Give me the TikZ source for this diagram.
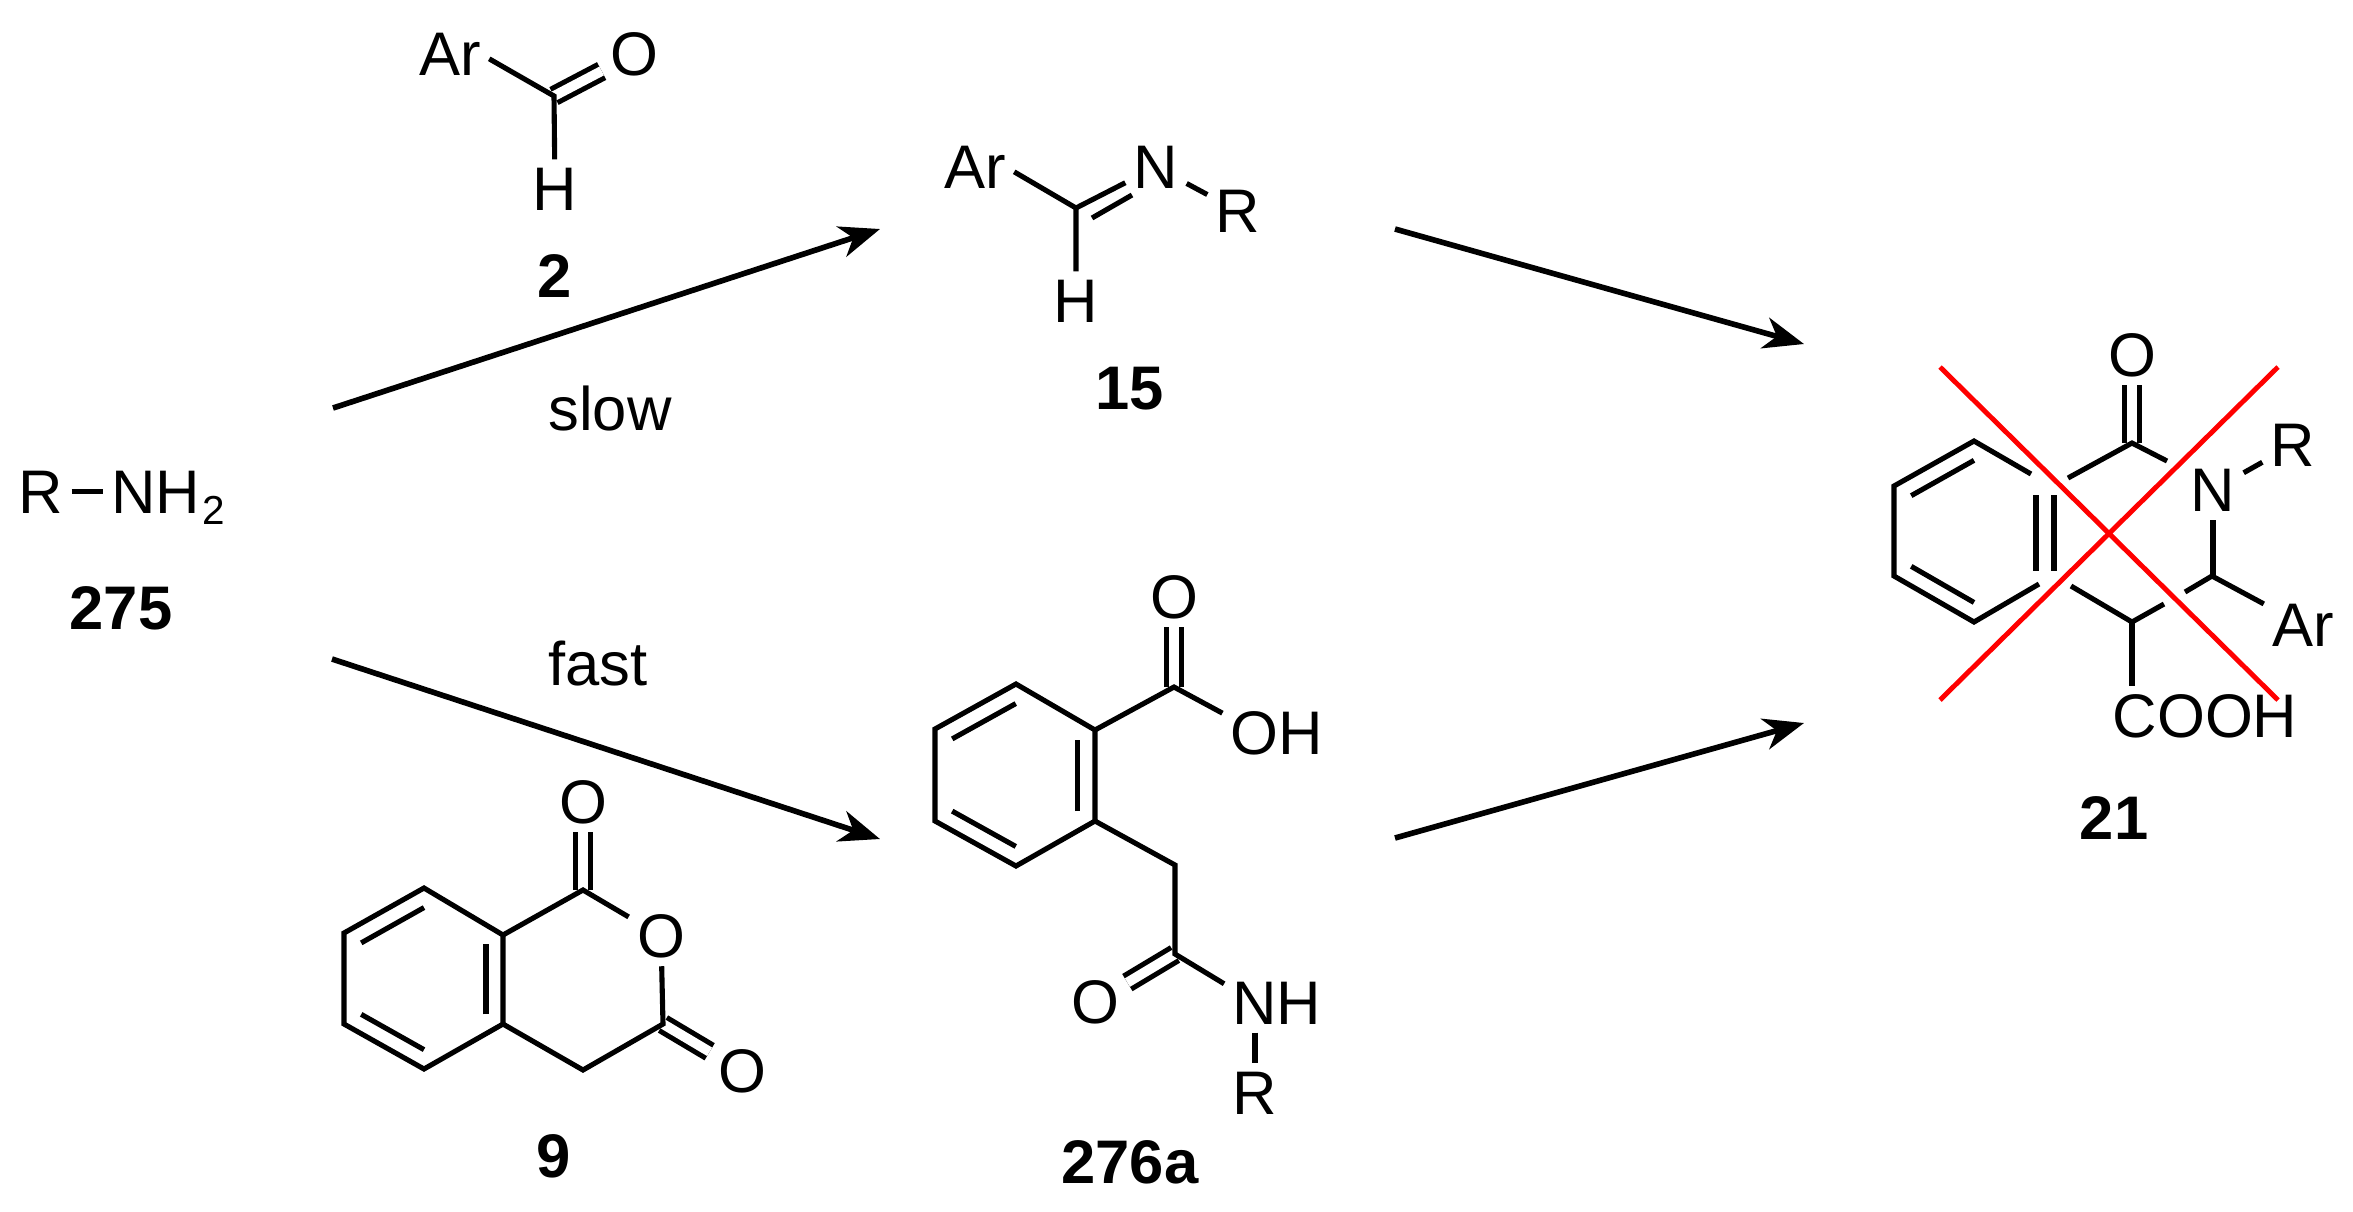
\documentclass[tikz,border=0pt]{standalone}
\usepackage{fontspec}
\setmainfont{Liberation Sans}
\usetikzlibrary{arrows.meta,calc}
\tikzset{
  atom/.style={font=\fontsize{17.5}{20}\selectfont,inner sep=2.2pt},
  cmpd/.style={font=\fontsize{17.5}{20}\selectfont\bfseries,inner sep=0pt},
  bond/.style={line width=1.45pt},
  dbond/.style={line width=1.45pt,double,double distance=2.8pt},
  rxn/.style={line width=1.6pt,-{Stealth[length=11.5pt,width=9pt,inset=3.5pt]}},
  cross/.style={draw=red,line width=1.4pt}
}
\begin{document}
\begin{tikzpicture}[x=0.01cm,y=-0.01cm]
\useasboundingbox (0,0) rectangle (2353,1211);
% 275
\node[atom,anchor=base] (r275) at (41,513) {R};
\node[atom,anchor=base west] (nh275) at (103,513) {NH\kern0.6pt\raisebox{-3.4pt}{\fontsize{11.5}{12}\selectfont 2}};
\node[cmpd] (lab275) at (121,608) {275};
\draw[bond] (r275.east) -- (r275.east -| nh275.west);
% 2
\node[atom] (ar2) at (450,54) {Ar};
\node[atom] (o2) at (634,54) {O};
\node[atom] (h2) at (555,189) {H};
\coordinate (c2) at (554,96);
\node[cmpd] (lab2) at (555,276) {2};
\draw[dbond] (c2) -- (o2);
\draw[bond] (ar2.-7) -- (c2) -- (h2);
% 15
\node[atom] (ar15) at (975,167) {Ar};
\node[atom] (n15) at (1156,167) {N};
\node[atom] (r15) at (1238,211) {R};
\node[atom] (h15) at (1076,301) {H};
\coordinate (c15) at (1076,208);
\coordinate (c15a) at (1092,218);
\coordinate (c15b) at (1132,195);
\node[cmpd] (lab15) at (1130,389) {15};
\draw[bond] (ar15.-7) -- (c15) -- (h15);
\draw[bond] (c15) -- (n15);
\draw[bond] (c15a) -- (c15b);
\draw[bond] (n15) -- (r15);
% 9
\coordinate (a0) at (424,979);
\coordinate (a1) at (424,888);
\coordinate (a2) at (344,933);
\coordinate (a3) at (344,1024);
\coordinate (a4) at (424,1069);
\coordinate (a5) at (503,1024);
\coordinate (a6) at (503,935);
\coordinate (c9a) at (583,890);
\coordinate (c9b) at (583,1070);
\coordinate (c9c) at (663,1024);
\node[atom] (o9a) at (583,802) {O};
\node[atom] (o9b) at (661,936) {O};
\node[atom] (o9c) at (742,1071) {O};
\node[cmpd] (lab9) at (554,1156) {9};
\draw[dbond] (c9a) -- (o9a);
\draw[dbond] (c9c) -- (o9c);
\draw[bond] (a1) -- (a2) -- (a3) -- (a4) -- (a5) -- (a6) -- cycle;
\draw[bond] ($(a1)!.215!(a0)$) -- ($(a2)!.215!(a0)$);
\draw[bond] ($(a3)!.215!(a0)$) -- ($(a4)!.215!(a0)$);
\draw[bond] ($(a5)!.215!(a0)$) -- ($(a6)!.215!(a0)$);
\draw[bond] (a6) -- (c9a) -- (o9b) -- (c9c) -- (c9b) -- (a5);
% 276a
\coordinate (b0) at (1015,775);
\coordinate (b1) at (1016,684);
\coordinate (b2) at (935,729);
\coordinate (b3) at (935,821);
\coordinate (b4) at (1016,866);
\coordinate (b5) at (1095,821);
\coordinate (b6) at (1095,730);
\coordinate (c276a) at (1174,687);
\coordinate (c276b) at (1175,865);
\coordinate (c276c) at (1175,954);
\node[atom] (o276a) at (1174,597) {O};
\node[atom] (oh276) at (1277,733) {OH};
\node[atom] (o276b) at (1095,1002) {O};
\node[atom] (nh276) at (1277,1003) {NH};
\node[atom] (r276) at (1255,1093) {R};
\node[cmpd] (lab276) at (1130,1162) {276a};
\draw[dbond] (c276a) -- (o276a);
\draw[dbond] (c276c) -- (o276b);
\draw[bond] (b1) -- (b2) -- (b3) -- (b4) -- (b5) -- (b6) -- cycle;
\draw[bond] ($(b1)!.215!(b0)$) -- ($(b2)!.215!(b0)$);
\draw[bond] ($(b3)!.215!(b0)$) -- ($(b4)!.215!(b0)$);
\draw[bond] ($(b5)!.215!(b0)$) -- ($(b6)!.215!(b0)$);
\draw[bond] (b6) -- (c276a) -- (oh276.160);
\draw[bond] (b5) -- (c276b) -- (c276c) -- (nh276.160);
\draw[bond] (r276 |- nh276.south) -- (r276.north);
% 21
\coordinate (d0) at (1974,531);
\coordinate (d1) at (1974,441);
\coordinate (d2) at (1894,486);
\coordinate (d3) at (1894,576);
\coordinate (d4) at (1974,622);
\coordinate (d5) at (2039,584);
\coordinate (d6) at (2031,474);
\coordinate (e1) at (2036,495);
\coordinate (e2) at (2036,571);
\coordinate (e3) at (2054,495);
\coordinate (e4) at (2054,571);
\coordinate (c21a) at (2132,443);
\coordinate (c21b) at (2068,478);
\coordinate (c21c) at (2167,461);
\coordinate (c21d) at (2212,576);
\coordinate (c21e) at (2185,592);
\coordinate (c21f) at (2164,604);
\coordinate (c21g) at (2132,622);
\coordinate (c21h) at (2071,586);
\node[atom] (o21) at (2132,355) {O};
\node[atom] (n21) at (2213,490) {N};
\node[atom] (r21) at (2293,445) {R};
\node[atom] (ar21) at (2303,625) {Ar};
\node[atom] (cooh21) at (2205,716) {COOH};
\node[cmpd] (lab21) at (2114,818) {21};
\draw[dbond] (c21a) -- (o21);
\draw[bond] (d6) -- (d1) -- (d2) -- (d3) -- (d4) -- (d5);
\draw[bond] ($(d1)!.215!(d0)$) -- ($(d2)!.215!(d0)$);
\draw[bond] ($(d3)!.215!(d0)$) -- ($(d4)!.215!(d0)$);
\draw[bond] (e1) -- (e2);
\draw[bond] (e3) -- (e4);
\draw[bond] (c21b) -- (c21a) -- (c21c);
\draw[bond] (n21) -- (r21);
\draw[bond] (n21 |- c21d) -- (n21);
\draw[bond] (c21e) -- (c21d) -- (ar21);
\draw[bond] (c21h) -- (c21g) -- (c21f);
\draw[bond] (c21g) -- (c21g |- cooh21.north);
\coordinate (x1) at (1940,367);
\coordinate (x2) at (2278,700);
\coordinate (x3) at (2278,367);
\coordinate (x4) at (1940,700);
\draw[cross] (x1) -- (x2);
\draw[cross] (x3) -- (x4);
% arrows
\coordinate (s1) at (333,408);
\coordinate (t1) at (880,229);
\coordinate (s2) at (332,659);
\coordinate (t2) at (880,839);
\coordinate (s3) at (1395,229);
\coordinate (t3) at (1804,344);
\coordinate (s4) at (1395,838);
\coordinate (t4) at (1804,723);
\draw[rxn] (s1) -- (t1);
\draw[rxn] (s2) -- (t2);
\draw[rxn] (s3) -- (t3);
\draw[rxn] (s4) -- (t4);
\node[atom] (slow) at (610,408) {slow};
\node[atom] (fast) at (598,664) {fast};
\end{tikzpicture}
\end{document}
